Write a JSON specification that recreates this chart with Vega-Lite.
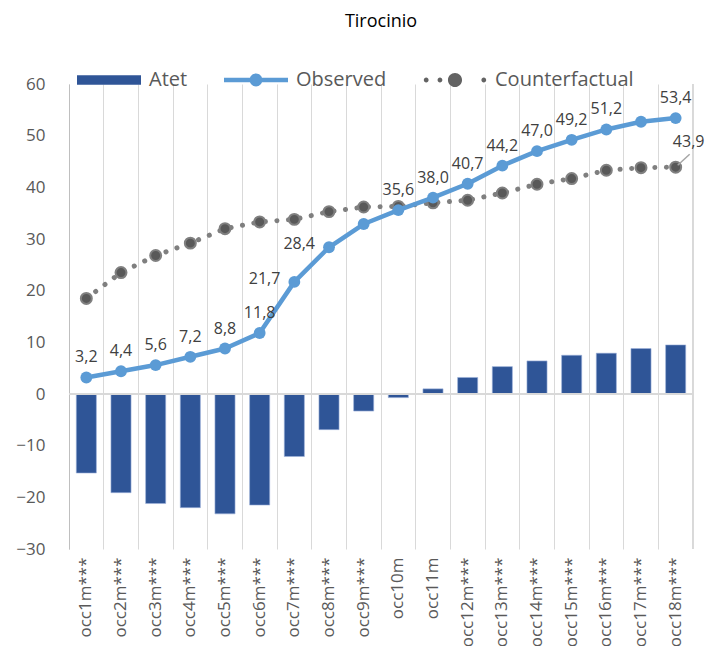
{
  "$schema": "https://vega.github.io/schema/vega-lite/v6.json",
  "autosize": "none",
  "width": 624,
  "height": 465,
  "padding": {"left": 69, "top": 84, "right": 17, "bottom": 97},
  "background": "white",
  "title": {"text": "Tirocinio", "fontSize": 18, "font": "Open Sans", "fontWeight": "normal", "color": "#000000", "offset": 17, "anchor": "middle"},
  "config": {
    "view": {"stroke": null},
    "locale": {"number": {"decimal": ",", "thousands": ".", "grouping": [3], "currency": ["", "€"]}},
    "font": "Open Sans"
  },
  "data": {"values": [
    {"cat": "occ1m***", "Atet": -15.3, "Observed": 3.2, "Counterfactual": 18.5},
    {"cat": "occ2m***", "Atet": -19.1, "Observed": 4.4, "Counterfactual": 23.5},
    {"cat": "occ3m***", "Atet": -21.2, "Observed": 5.6, "Counterfactual": 26.8},
    {"cat": "occ4m***", "Atet": -22.0, "Observed": 7.2, "Counterfactual": 29.2},
    {"cat": "occ5m***", "Atet": -23.2, "Observed": 8.8, "Counterfactual": 32.0},
    {"cat": "occ6m***", "Atet": -21.5, "Observed": 11.8, "Counterfactual": 33.3},
    {"cat": "occ7m***", "Atet": -12.1, "Observed": 21.7, "Counterfactual": 33.8},
    {"cat": "occ8m***", "Atet": -6.9, "Observed": 28.4, "Counterfactual": 35.3},
    {"cat": "occ9m***", "Atet": -3.3, "Observed": 32.9, "Counterfactual": 36.2},
    {"cat": "occ10m", "Atet": -0.7, "Observed": 35.6, "Counterfactual": 36.3},
    {"cat": "occ11m", "Atet": 1.0, "Observed": 38.0, "Counterfactual": 37.0},
    {"cat": "occ12m***", "Atet": 3.2, "Observed": 40.7, "Counterfactual": 37.5},
    {"cat": "occ13m***", "Atet": 5.3, "Observed": 44.2, "Counterfactual": 38.9},
    {"cat": "occ14m***", "Atet": 6.4, "Observed": 47.0, "Counterfactual": 40.6},
    {"cat": "occ15m***", "Atet": 7.5, "Observed": 49.2, "Counterfactual": 41.7},
    {"cat": "occ16m***", "Atet": 7.9, "Observed": 51.2, "Counterfactual": 43.3},
    {"cat": "occ17m***", "Atet": 8.8, "Observed": 52.7, "Counterfactual": 43.8},
    {"cat": "occ18m***", "Atet": 9.5, "Observed": 53.4, "Counterfactual": 43.9}
  ]},
  "encoding": {
    "x": {
      "field": "cat", "type": "nominal",
      "scale": {"domain": ["occ1m***","occ2m***","occ3m***","occ4m***","occ5m***","occ6m***","occ7m***","occ8m***","occ9m***","occ10m","occ11m","occ12m***","occ13m***","occ14m***","occ15m***","occ16m***","occ17m***","occ18m***"], "paddingInner": 0, "paddingOuter": 0},
      "axis": {"title": null, "grid": true, "gridColor": "#d9d9d9", "gridWidth": 1, "bandPosition": 0, "domain": false, "ticks": false, "labelAngle": -90, "labelPadding": 8, "labelFont": "Open Sans", "labelFontSize": 17, "labelColor": "#595959"}
    }
  },
  "layer": [
    {
      "mark": {"type": "rule", "color": "#d9d9d9", "strokeWidth": 1},
      "encoding": {"x": {"datum": "occ18m***", "type": "nominal", "bandPosition": 1}}
    },
    {
      "transform": [{"fold": ["Atet"], "as": ["series", "value"]}],
      "mark": {"type": "bar", "width": {"band": 0.58}, "stroke": "#9fb4dc", "strokeWidth": 0.6},
      "encoding": {
        "y": {
          "field": "value", "type": "quantitative",
          "scale": {"domain": [-30, 60], "nice": false, "zero": false},
          "axis": {"title": null, "grid": false, "values": [-30,-20,-10,0,10,20,30,40,50,60], "domainColor": "#bfbfbf", "domainWidth": 1, "ticks": false, "labelPadding": 24, "labelFont": "Open Sans", "labelFontSize": 17, "labelColor": "#595959"}
        },
        "color": {
          "field": "series", "type": "nominal",
          "scale": {"domain": ["Atet", "Observed", "Counterfactual"], "range": ["#2F5597", "#5B9BD5", "#636363"]},
          "legend": {
            "title": null, "orient": "none", "direction": "horizontal", "columns": 3,
            "legendX": 8, "legendY": -36, "padding": 0,
            "symbolSize": 4096, "symbolStrokeWidth": 0, "symbolOpacity": 1,
            "labelFont": "Open Sans", "labelFontSize": 20, "labelColor": "#595959", "labelOffset": 8, "columnPadding": 36, "labelLimit": 300,
            "encoding": {"symbols": {"shape": {"value": {"expr": "datum.value === 'Atet' ? 'M-1,-0.15H1V0.15H-1Z' : datum.value === 'Observed' ? 'M-1,-0.07H1V0.07H-1ZM-0.2,0A0.2,0.2 0 1,1 0.2,0A0.2,0.2 0 1,1 -0.2,0Z' : 'M-0.975,0A0.075,0.075 0 1,1 -0.825,0A0.075,0.075 0 1,1 -0.975,0ZM-0.545,0A0.075,0.075 0 1,1 -0.395,0A0.075,0.075 0 1,1 -0.545,0ZM-0.22,0A0.22,0.22 0 1,1 0.22,0A0.22,0.22 0 1,1 -0.22,0ZM0.825,0A0.075,0.075 0 1,1 0.975,0A0.075,0.075 0 1,1 0.825,0Z'"}}}}
          }
        }
      }
    },
    {
      "mark": {"type": "rule", "color": "#d9d9d9", "strokeWidth": 1.3},
      "encoding": {"y": {"datum": 0, "type": "quantitative"}, "x": {"value": 0}, "x2": {"value": 624}}
    },
    {
      "mark": {"type": "line", "color": "#7f7f7f", "strokeWidth": 5, "strokeCap": "round", "strokeDash": [0.1, 11.5]},
      "encoding": {"y": {"field": "Counterfactual", "type": "quantitative"}}
    },
    {
      "mark": {"type": "point", "shape": "circle", "filled": true, "fill": "#595959", "stroke": "#808080", "strokeWidth": 2, "size": 120, "opacity": 1},
      "encoding": {"y": {"field": "Counterfactual", "type": "quantitative"}}
    },
    {
      "mark": {"type": "line", "color": "#5B9BD5", "strokeWidth": 4.5, "strokeCap": "round", "strokeJoin": "round"},
      "encoding": {"y": {"field": "Observed", "type": "quantitative"}}
    },
    {
      "mark": {"type": "point", "shape": "circle", "filled": true, "color": "#5B9BD5", "size": 140, "opacity": 1},
      "encoding": {"y": {"field": "Observed", "type": "quantitative"}}
    },
    {
      "transform": [{"filter": "datum.cat !== 'occ7m***' && datum.cat !== 'occ8m***' && datum.cat !== 'occ9m***' && datum.cat !== 'occ17m***'"}],
      "mark": {"type": "text", "dy": -20, "align": "center", "baseline": "middle", "font": "Open Sans", "fontSize": 16, "color": "#404040"},
      "encoding": {"y": {"field": "Observed", "type": "quantitative"}, "text": {"field": "Observed", "type": "quantitative", "format": ".1f"}}
    },
    {
      "transform": [{"filter": "datum.cat === 'occ7m***' || datum.cat === 'occ8m***'"}],
      "mark": {"type": "text", "dx": -14, "dy": -3, "align": "right", "baseline": "middle", "font": "Open Sans", "fontSize": 16, "color": "#404040"},
      "encoding": {"y": {"field": "Observed", "type": "quantitative"}, "text": {"field": "Observed", "type": "quantitative", "format": ".1f"}}
    },
    {
      "transform": [{"filter": "datum.cat === 'occ18m***'"}],
      "mark": {"type": "rule", "color": "#a6a6a6", "strokeWidth": 1.5, "xOffset": 2, "yOffset": -2, "x2Offset": 14, "y2Offset": -13},
      "encoding": {
        "x": {"field": "cat", "type": "nominal"},
        "x2": {"field": "cat"},
        "y": {"field": "Counterfactual", "type": "quantitative"},
        "y2": {"field": "Counterfactual"}
      }
    },
    {
      "transform": [{"filter": "datum.cat === 'occ18m***'"}],
      "mark": {"type": "text", "dx": 13, "dy": -25, "align": "center", "baseline": "middle", "font": "Open Sans", "fontSize": 16, "color": "#404040"},
      "encoding": {"y": {"field": "Counterfactual", "type": "quantitative"}, "text": {"field": "Counterfactual", "type": "quantitative", "format": ".1f"}}
    }
  ]
}
